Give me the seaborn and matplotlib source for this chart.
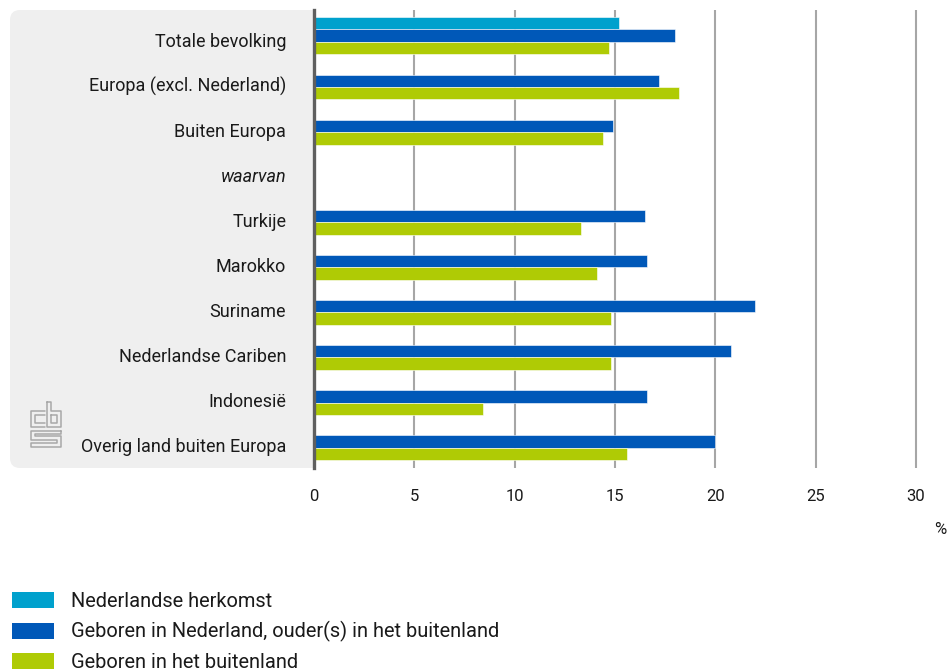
import numpy as np
import pandas as pd
import seaborn as sns
import matplotlib.pyplot as plt
import matplotlib.transforms as mtransforms
from matplotlib.patches import FancyBboxPatch, Patch
from matplotlib.lines import Line2D

# Data (%)
categories = ["Totale bevolking", "Europa (excl. Nederland)", "Buiten Europa", "waarvan",
              "Turkije", "Marokko", "Suriname", "Nederlandse Cariben", "Indonesië",
              "Overig land buiten Europa"]
groups = ["Nederlandse herkomst",
          "Geboren in Nederland, ouder(s) in het buitenland",
          "Geboren in het buitenland"]
nederlands = [15.2, np.nan, np.nan, np.nan, np.nan, np.nan, np.nan, np.nan, np.nan, np.nan]
tweede_gen = [18.0, 17.2, 14.9, np.nan, 16.5, 16.6, 22.0, 20.8, 16.6, 20.0]
eerste_gen = [14.7, 18.2, 14.4, np.nan, 13.3, 14.1, 14.8, 14.8, 8.4, 15.6]
colors = ["#00a1cd", "#0058b8", "#afcb05"]
x_ticks = [0, 5, 10, 15, 20, 25, 30]

df = pd.DataFrame({"categorie": categories * 3,
                   "groep": [g for g in groups for _ in categories],
                   "waarde": nederlands + tweede_gen + eerste_gen})

sns.set_style("white")
plt.rcParams["font.family"] = ["Roboto", "DejaVu Sans"]

W, H = 948, 672
fig = plt.figure(figsize=(W / 100, H / 100), dpi=100)
ax = fig.add_axes([314 / W, 1 - 468 / H, 632 / W, 458 / H])

# grey background panel behind the category labels
panel = FancyBboxPatch((0.20, (H - 458) / 100), 3.20, 4.38,
                       boxstyle="round,pad=0.1", transform=fig.dpi_scale_trans,
                       facecolor="#efefef", edgecolor="none", zorder=-1)
fig.patches.append(panel)

sns.barplot(data=df, y="categorie", x="waarde", hue="groep", order=categories,
            hue_order=groups, palette=colors, saturation=1, orient="h", width=0.83,
            edgecolor="white", linewidth=0.4, legend=False, ax=ax, zorder=3)

ax.set_xlim(0, 31.5)
ax.set_ylim(9.59, -0.57)
ax.set_xticks(x_ticks)
ax.set_xticklabels([str(t) for t in x_ticks])
for t in x_ticks[1:]:
    ax.axvline(t, color="#a6a6a6", lw=1.5, zorder=1)
ax.set_xlabel("")
ax.set_ylabel("")
for s in ["top", "right", "bottom"]:
    ax.spines[s].set_visible(False)
ax.spines["left"].set_color("#5f5f5f")
ax.spines["left"].set_linewidth(2.4)
ax.spines["left"].set_zorder(5)
ax.tick_params(axis="x", length=0, pad=15, labelsize=12, labelcolor="#1a1a1a")
ax.tick_params(axis="y", length=0, pad=20, labelsize=13, labelcolor="#1a1a1a")
ax.set_facecolor("white")
shift = mtransforms.ScaledTranslation(0, -4 / 100, fig.dpi_scale_trans)
for lab in ax.get_yticklabels():
    lab.set_transform(lab.get_transform() + shift)
    if lab.get_text() == "waarvan":
        lab.set_style("italic")

fig.text(946 / W, 1 - 530 / H, "%", ha="right", va="center", fontsize=12, color="#1a1a1a")

# simple outline of the cbs logo
def px(points):
    return [p[0] / 100 for p in points], [(H - p[1]) / 100 for p in points]

logo_paths = [
    [(45, 411), (31, 411), (31, 427), (45, 427)],
    [(45, 415), (35, 415), (35, 423), (45, 423)],
    [(47, 402), (47, 427), (61, 427), (61, 411), (51, 411), (51, 402), (47, 402)],
    [(51, 415), (57, 415), (57, 423), (51, 423), (51, 415)],
    [(61, 431), (31, 431), (31, 440), (57, 440), (57, 443), (31, 443), (31, 447), (61, 447),
     (61, 436), (35, 436), (35, 434), (61, 434), (61, 431)],
]
for path in logo_paths:
    xs, ys = px(path)
    fig.add_artist(Line2D(xs, ys, transform=fig.dpi_scale_trans, color="#a8a8a8", lw=1.1))

handles = [Patch(facecolor=c, edgecolor="none") for c in colors]
fig.legend(handles, groups, loc="upper left", bbox_to_anchor=(4 / W, 1 - 584 / H),
           frameon=False, fontsize=14.4, handlelength=2.1, handleheight=0.85,
           handletextpad=0.85, labelspacing=0.52, borderaxespad=0, labelcolor="#1a1a1a")

fig.savefig("out.png", dpi=100)
